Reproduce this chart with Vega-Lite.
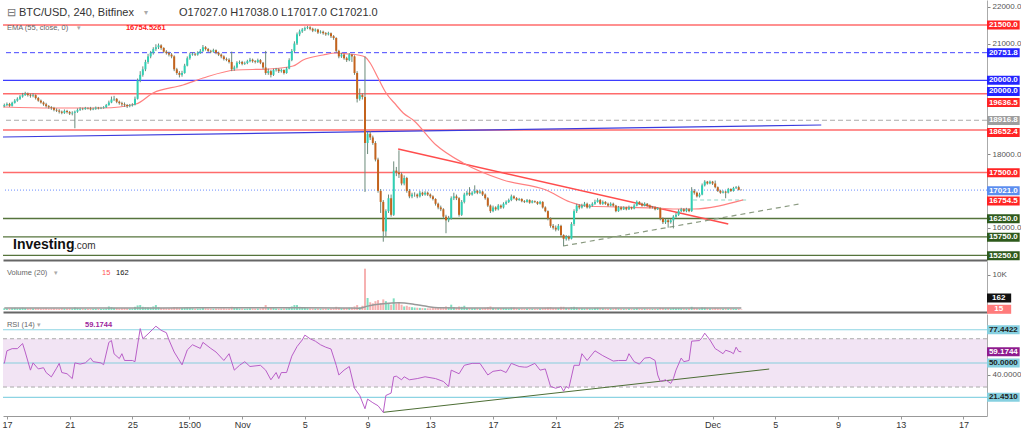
{
"$schema": "https://vega.github.io/schema/vega-lite/v6.json",
"padding": 0,
"autosize": {"type": "pad"},
"background": "white",
"spacing": 0,
"resolve": {"scale": {"color": "independent", "fill": "independent"}},
"config": {"view": {"stroke": null}, "font": "Liberation Sans", "axis": {"grid": false}},
"datasets": {
"candles": [
{"t":"2022-10-16T20:00","o":19300,"h":19370,"l":19270,"c":19330,"v":500,"r":49.5,"m":560},
{"t":"2022-10-17T00:00","o":19330,"h":19400,"l":19300,"c":19360,"v":450,"r":60},
{"t":"2022-10-17T04:00","o":19360,"h":19390,"l":19280,"c":19310,"v":400},
{"t":"2022-10-17T08:00","o":19310,"h":19420,"l":19290,"c":19390,"v":520,"r":61.8},
{"t":"2022-10-17T12:00","o":19390,"h":19490,"l":19370,"c":19450,"v":600},
{"t":"2022-10-17T16:00","o":19450,"h":19540,"l":19420,"c":19500,"v":480,"r":61.8},
{"t":"2022-10-17T20:00","o":19500,"h":19600,"l":19470,"c":19560,"v":500},
{"t":"2022-10-18T00:00","o":19560,"h":19660,"l":19530,"c":19600,"v":650,"r":66},
{"t":"2022-10-18T04:00","o":19600,"h":19690,"l":19580,"c":19640,"v":550,"r":59},
{"t":"2022-10-18T08:00","o":19640,"h":19670,"l":19560,"c":19600,"v":450},
{"t":"2022-10-18T12:00","o":19600,"h":19640,"l":19530,"c":19580,"v":500,"r":44},
{"t":"2022-10-18T16:00","o":19580,"h":19650,"l":19540,"c":19600,"v":420,"r":50},
{"t":"2022-10-18T20:00","o":19600,"h":19620,"l":19480,"c":19520,"v":480},
{"t":"2022-10-19T00:00","o":19520,"h":19550,"l":19420,"c":19450,"v":520,"r":45},
{"t":"2022-10-19T04:00","o":19450,"h":19480,"l":19370,"c":19400,"v":400},
{"t":"2022-10-19T08:00","o":19400,"h":19430,"l":19310,"c":19350,"v":450,"r":46},
{"t":"2022-10-19T12:00","o":19350,"h":19390,"l":19260,"c":19300,"v":500,"r":42},
{"t":"2022-10-19T16:00","o":19300,"h":19330,"l":19230,"c":19270,"v":380},
{"t":"2022-10-19T20:00","o":19270,"h":19300,"l":19200,"c":19250,"v":420,"r":38.4},
{"t":"2022-10-20T00:00","o":19250,"h":19280,"l":19160,"c":19200,"v":450},
{"t":"2022-10-20T04:00","o":19200,"h":19240,"l":19140,"c":19180,"v":400,"r":45.6},
{"t":"2022-10-20T08:00","o":19180,"h":19220,"l":19100,"c":19150,"v":380,"r":49.6},
{"t":"2022-10-20T12:00","o":19150,"h":19180,"l":19080,"c":19120,"v":500,"r":42},
{"t":"2022-10-20T16:00","o":19120,"h":19210,"l":19090,"c":19170,"v":430},
{"t":"2022-10-20T20:00","o":19170,"h":19200,"l":19100,"c":19140,"v":400,"r":41},
{"t":"2022-10-21T00:00","o":19140,"h":19170,"l":19060,"c":19100,"v":450},
{"t":"2022-10-21T04:00","o":19100,"h":19160,"l":19050,"c":19120,"v":420,"r":37},
{"t":"2022-10-21T08:00","o":19120,"h":19180,"l":18700,"c":19150,"v":700,"r":50},
{"t":"2022-10-21T12:00","o":19150,"h":19240,"l":19120,"c":19200,"v":550},
{"t":"2022-10-21T16:00","o":19200,"h":19270,"l":19170,"c":19230,"v":420,"r":49},
{"t":"2022-10-21T20:00","o":19230,"h":19260,"l":19190,"c":19220,"v":380},
{"t":"2022-10-22T00:00","o":19220,"h":19280,"l":19200,"c":19250,"v":350,"r":50},
{"t":"2022-10-22T04:00","o":19250,"h":19270,"l":19210,"c":19240,"v":300},
{"t":"2022-10-22T08:00","o":19240,"h":19280,"l":19180,"c":19210,"v":320,"r":54},
{"t":"2022-10-22T12:00","o":19210,"h":19260,"l":19190,"c":19230,"v":350,"r":51},
{"t":"2022-10-22T16:00","o":19230,"h":19290,"l":19200,"c":19260,"v":380},
{"t":"2022-10-22T20:00","o":19260,"h":19280,"l":19210,"c":19240,"v":330},
{"t":"2022-10-23T00:00","o":19240,"h":19280,"l":19220,"c":19250,"v":300,"r":50},
{"t":"2022-10-23T04:00","o":19250,"h":19300,"l":19230,"c":19270,"v":350,"r":48.5},
{"t":"2022-10-23T08:00","o":19270,"h":19360,"l":19250,"c":19330,"v":450},
{"t":"2022-10-23T12:00","o":19330,"h":19450,"l":19310,"c":19400,"v":1000,"r":67},
{"t":"2022-10-23T16:00","o":19400,"h":19560,"l":19380,"c":19480,"v":800,"r":68.5},
{"t":"2022-10-23T20:00","o":19480,"h":19580,"l":19440,"c":19500,"v":600,"r":57.5},
{"t":"2022-10-24T00:00","o":19500,"h":19520,"l":19380,"c":19420,"v":550},
{"t":"2022-10-24T04:00","o":19420,"h":19450,"l":19340,"c":19380,"v":450,"r":53.6},
{"t":"2022-10-24T08:00","o":19380,"h":19420,"l":19300,"c":19350,"v":500,"r":57.6},
{"t":"2022-10-24T12:00","o":19350,"h":19400,"l":19280,"c":19330,"v":550,"r":52},
{"t":"2022-10-24T16:00","o":19330,"h":19360,"l":19250,"c":19300,"v":480},
{"t":"2022-10-24T20:00","o":19300,"h":19360,"l":19270,"c":19320,"v":420},
{"t":"2022-10-25T00:00","o":19320,"h":19380,"l":19290,"c":19340,"v":400,"r":52},
{"t":"2022-10-25T04:00","o":19340,"h":19560,"l":19320,"c":19500,"v":900,"r":51},
{"t":"2022-10-25T08:00","o":19500,"h":20050,"l":19480,"c":20000,"v":1300},
{"t":"2022-10-25T12:00","o":20000,"h":20250,"l":19950,"c":20150,"v":1400,"r":78.4},
{"t":"2022-10-25T16:00","o":20150,"h":20380,"l":20100,"c":20300,"v":900,"r":70},
{"t":"2022-10-25T20:00","o":20300,"h":20560,"l":20250,"c":20500,"v":800},
{"t":"2022-10-26T00:00","o":20500,"h":20720,"l":20450,"c":20650,"v":750,"r":74},
{"t":"2022-10-26T04:00","o":20650,"h":20800,"l":20600,"c":20750,"v":700},
{"t":"2022-10-26T08:00","o":20750,"h":20900,"l":20700,"c":20850,"v":1000},
{"t":"2022-10-26T12:00","o":20850,"h":20980,"l":20800,"c":20900,"v":1400,"r":80.4},
{"t":"2022-10-26T16:00","o":20900,"h":21000,"l":20850,"c":20950,"v":800},
{"t":"2022-10-26T20:00","o":20950,"h":20980,"l":20830,"c":20880,"v":600,"r":77,"m":600},
{"t":"2022-10-27T00:00","o":20880,"h":20900,"l":20740,"c":20780,"v":550},
{"t":"2022-10-27T04:00","o":20780,"h":20820,"l":20700,"c":20740,"v":500,"r":75},
{"t":"2022-10-27T08:00","o":20740,"h":20780,"l":20650,"c":20700,"v":480,"r":69},
{"t":"2022-10-27T12:00","o":20700,"h":20740,"l":20600,"c":20650,"v":550},
{"t":"2022-10-27T16:00","o":20650,"h":20680,"l":20250,"c":20300,"v":800,"r":59},
{"t":"2022-10-27T20:00","o":20300,"h":20340,"l":20150,"c":20200,"v":700},
{"t":"2022-10-28T00:00","o":20200,"h":20250,"l":20080,"c":20150,"v":600},
{"t":"2022-10-28T04:00","o":20150,"h":20260,"l":20100,"c":20200,"v":550,"r":48.4},
{"t":"2022-10-28T08:00","o":20200,"h":20450,"l":20180,"c":20400,"v":650},
{"t":"2022-10-28T12:00","o":20400,"h":20650,"l":20380,"c":20600,"v":700,"r":60.7},
{"t":"2022-10-28T16:00","o":20600,"h":20750,"l":20560,"c":20700,"v":600},
{"t":"2022-10-28T20:00","o":20700,"h":20770,"l":20670,"c":20720,"v":500,"r":65},
{"t":"2022-10-29T00:00","o":20720,"h":20750,"l":20660,"c":20700,"v":400},
{"t":"2022-10-29T04:00","o":20700,"h":20790,"l":20670,"c":20750,"v":420},
{"t":"2022-10-29T08:00","o":20750,"h":20850,"l":20720,"c":20800,"v":450,"r":62},
{"t":"2022-10-29T12:00","o":20800,"h":20960,"l":20770,"c":20900,"v":600,"r":67},
{"t":"2022-10-29T16:00","o":20900,"h":20930,"l":20810,"c":20850,"v":500},
{"t":"2022-10-29T20:00","o":20850,"h":20880,"l":20760,"c":20800,"v":450},
{"t":"2022-10-30T00:00","o":20800,"h":20830,"l":20740,"c":20780,"v":400,"r":62},
{"t":"2022-10-30T04:00","o":20780,"h":20860,"l":20750,"c":20820,"v":380},
{"t":"2022-10-30T08:00","o":20820,"h":20840,"l":20710,"c":20750,"v":420,"r":59},
{"t":"2022-10-30T12:00","o":20750,"h":20780,"l":20660,"c":20700,"v":450},
{"t":"2022-10-30T16:00","o":20700,"h":20730,"l":20600,"c":20650,"v":480},
{"t":"2022-10-30T20:00","o":20650,"h":20680,"l":20540,"c":20580,"v":500,"r":52},
{"t":"2022-10-31T00:00","o":20580,"h":20620,"l":20520,"c":20560,"v":420},
{"t":"2022-10-31T04:00","o":20560,"h":20600,"l":20460,"c":20500,"v":450,"r":57.6},
{"t":"2022-10-31T08:00","o":20500,"h":20780,"l":20250,"c":20300,"v":900},
{"t":"2022-10-31T12:00","o":20300,"h":20400,"l":20260,"c":20350,"v":650,"r":44},
{"t":"2022-10-31T16:00","o":20350,"h":20520,"l":20320,"c":20480,"v":550},
{"t":"2022-10-31T20:00","o":20480,"h":20540,"l":20440,"c":20500,"v":450,"r":48},
{"t":"2022-11-01T00:00","o":20500,"h":20530,"l":20410,"c":20450,"v":420},
{"t":"2022-11-01T04:00","o":20450,"h":20510,"l":20420,"c":20470,"v":380,"r":51},
{"t":"2022-11-01T08:00","o":20470,"h":20560,"l":20440,"c":20520,"v":420},
{"t":"2022-11-01T12:00","o":20520,"h":20610,"l":20490,"c":20560,"v":500,"r":47},
{"t":"2022-11-01T16:00","o":20560,"h":20590,"l":20480,"c":20520,"v":450},
{"t":"2022-11-01T20:00","o":20520,"h":20550,"l":20460,"c":20500,"v":400},
{"t":"2022-11-02T00:00","o":20500,"h":20590,"l":20470,"c":20550,"v":420},
{"t":"2022-11-02T04:00","o":20550,"h":20580,"l":20440,"c":20480,"v":450,"r":48},
{"t":"2022-11-02T08:00","o":20480,"h":20500,"l":20300,"c":20350,"v":600},
{"t":"2022-11-02T12:00","o":20350,"h":20800,"l":20150,"c":20200,"v":1400,"r":44,"m":620},
{"t":"2022-11-02T16:00","o":20200,"h":20320,"l":20150,"c":20250,"v":800},
{"t":"2022-11-02T20:00","o":20250,"h":20280,"l":20080,"c":20150,"v":700,"r":36},
{"t":"2022-11-03T00:00","o":20150,"h":20320,"l":20120,"c":20280,"v":550},
{"t":"2022-11-03T04:00","o":20280,"h":20340,"l":20240,"c":20300,"v":450,"r":42},
{"t":"2022-11-03T08:00","o":20300,"h":20330,"l":20200,"c":20250,"v":400,"r":37},
{"t":"2022-11-03T12:00","o":20250,"h":20320,"l":20210,"c":20280,"v":420,"r":42},
{"t":"2022-11-03T16:00","o":20280,"h":20300,"l":20160,"c":20200,"v":450},
{"t":"2022-11-03T20:00","o":20200,"h":20360,"l":20180,"c":20320,"v":500,"r":42},
{"t":"2022-11-04T00:00","o":20320,"h":20600,"l":20300,"c":20550,"v":700},
{"t":"2022-11-04T04:00","o":20550,"h":20850,"l":20520,"c":20800,"v":1000,"r":55.6},
{"t":"2022-11-04T08:00","o":20800,"h":21060,"l":20760,"c":21000,"v":1400},
{"t":"2022-11-04T12:00","o":21000,"h":21300,"l":20960,"c":21250,"v":1400,"r":63.5},
{"t":"2022-11-04T16:00","o":21250,"h":21380,"l":21200,"c":21330,"v":900},
{"t":"2022-11-04T20:00","o":21330,"h":21420,"l":21290,"c":21380,"v":700,"r":69},
{"t":"2022-11-05T00:00","o":21380,"h":21460,"l":21340,"c":21420,"v":600,"r":73},
{"t":"2022-11-05T04:00","o":21420,"h":21480,"l":21390,"c":21440,"v":500},
{"t":"2022-11-05T08:00","o":21440,"h":21470,"l":21360,"c":21400,"v":450,"r":70},
{"t":"2022-11-05T12:00","o":21400,"h":21430,"l":21310,"c":21350,"v":420},
{"t":"2022-11-05T16:00","o":21350,"h":21410,"l":21320,"c":21380,"v":400,"r":68},
{"t":"2022-11-05T20:00","o":21380,"h":21400,"l":21260,"c":21300,"v":420},
{"t":"2022-11-06T00:00","o":21300,"h":21360,"l":21270,"c":21320,"v":380,"r":65},
{"t":"2022-11-06T04:00","o":21320,"h":21350,"l":21240,"c":21280,"v":400},
{"t":"2022-11-06T08:00","o":21280,"h":21310,"l":21210,"c":21250,"v":420,"r":63},
{"t":"2022-11-06T12:00","o":21250,"h":21320,"l":21220,"c":21280,"v":380},
{"t":"2022-11-06T16:00","o":21280,"h":21300,"l":21150,"c":21200,"v":450,"r":61.5},
{"t":"2022-11-06T20:00","o":21200,"h":21230,"l":21100,"c":21150,"v":500},
{"t":"2022-11-07T00:00","o":21150,"h":21170,"l":20750,"c":20800,"v":900,"r":48},
{"t":"2022-11-07T04:00","o":20800,"h":20830,"l":20600,"c":20650,"v":700,"r":40},
{"t":"2022-11-07T08:00","o":20650,"h":20750,"l":20610,"c":20700,"v":500},
{"t":"2022-11-07T12:00","o":20700,"h":20730,"l":20560,"c":20600,"v":550,"r":44,"m":560},
{"t":"2022-11-07T16:00","o":20600,"h":20640,"l":20500,"c":20550,"v":600},
{"t":"2022-11-07T20:00","o":20550,"h":20740,"l":20520,"c":20700,"v":650,"r":47},
{"t":"2022-11-08T00:00","o":20700,"h":20720,"l":20500,"c":20650,"v":700},
{"t":"2022-11-08T04:00","o":20650,"h":20680,"l":20150,"c":20200,"v":1000,"r":29},
{"t":"2022-11-08T08:00","o":20200,"h":20250,"l":19400,"c":19500,"v":1400},
{"t":"2022-11-08T12:00","o":19500,"h":19780,"l":19450,"c":19600,"v":800,"r":23,"m":520},
{"t":"2022-11-08T16:00","o":19600,"h":19650,"l":19480,"c":19550,"v":1200},
{"t":"2022-11-08T20:00","o":19550,"h":20650,"l":16970,"c":18300,"v":11700,"r":12},
{"t":"2022-11-09T00:00","o":18300,"h":18600,"l":18000,"c":18550,"v":3400,"r":20,"m":1100},
{"t":"2022-11-09T04:00","o":18550,"h":18620,"l":18380,"c":18450,"v":2200},
{"t":"2022-11-09T08:00","o":18450,"h":18500,"l":18250,"c":18300,"v":1900,"r":17},
{"t":"2022-11-09T12:00","o":18300,"h":18350,"l":17800,"c":17850,"v":2500},
{"t":"2022-11-09T16:00","o":17850,"h":17900,"l":16950,"c":17000,"v":2800,"r":14.5},
{"t":"2022-11-09T20:00","o":17000,"h":17050,"l":16400,"c":16700,"v":2000},
{"t":"2022-11-10T00:00","o":16700,"h":16750,"l":15620,"c":15900,"v":3000,"r":9,"m":1750},
{"t":"2022-11-10T04:00","o":15900,"h":16500,"l":15750,"c":16450,"v":2500,"r":23},
{"t":"2022-11-10T08:00","o":16450,"h":16900,"l":16400,"c":16800,"v":2000},
{"t":"2022-11-10T12:00","o":16800,"h":16900,"l":16300,"c":16350,"v":1500,"r":25},
{"t":"2022-11-10T16:00","o":16350,"h":17800,"l":16320,"c":17550,"v":3300,"r":38.5},
{"t":"2022-11-10T20:00","o":17550,"h":17650,"l":17400,"c":17500,"v":1800,"r":39},
{"t":"2022-11-11T00:00","o":17500,"h":18100,"l":17350,"c":17450,"v":2000,"m":2030},
{"t":"2022-11-11T04:00","o":17450,"h":17500,"l":17150,"c":17200,"v":1500,"r":36},
{"t":"2022-11-11T08:00","o":17200,"h":17420,"l":17150,"c":17350,"v":1000,"r":38.5},
{"t":"2022-11-11T12:00","o":17350,"h":17380,"l":16950,"c":17000,"v":1200},
{"t":"2022-11-11T16:00","o":17000,"h":17050,"l":16800,"c":16850,"v":900,"r":36},
{"t":"2022-11-11T20:00","o":16850,"h":16950,"l":16800,"c":16900,"v":800},
{"t":"2022-11-12T00:00","o":16900,"h":16960,"l":16840,"c":16900,"v":700,"m":1580},
{"t":"2022-11-12T04:00","o":16900,"h":16930,"l":16800,"c":16850,"v":650,"r":37},
{"t":"2022-11-12T08:00","o":16850,"h":17000,"l":16820,"c":16950,"v":600},
{"t":"2022-11-12T12:00","o":16950,"h":16980,"l":16860,"c":16900,"v":550},
{"t":"2022-11-12T16:00","o":16900,"h":16990,"l":16870,"c":16950,"v":500,"r":38.5,"m":1100},
{"t":"2022-11-12T20:00","o":16950,"h":16980,"l":16860,"c":16900,"v":480},
{"t":"2022-11-13T00:00","o":16900,"h":16930,"l":16800,"c":16850,"v":500},
{"t":"2022-11-13T04:00","o":16850,"h":16880,"l":16740,"c":16780,"v":550},
{"t":"2022-11-13T08:00","o":16780,"h":16800,"l":16600,"c":16650,"v":600,"r":37},
{"t":"2022-11-13T12:00","o":16650,"h":16680,"l":16500,"c":16550,"v":650,"m":640},
{"t":"2022-11-13T16:00","o":16550,"h":16600,"l":16450,"c":16500,"v":600},
{"t":"2022-11-13T20:00","o":16500,"h":16530,"l":16250,"c":16300,"v":800,"r":34.6},
{"t":"2022-11-14T00:00","o":16300,"h":16350,"l":15850,"c":16200,"v":1000},
{"t":"2022-11-14T04:00","o":16200,"h":16320,"l":16150,"c":16250,"v":700,"r":30.5},
{"t":"2022-11-14T08:00","o":16250,"h":16850,"l":16220,"c":16800,"v":1500,"r":44},
{"t":"2022-11-14T12:00","o":16800,"h":16950,"l":16750,"c":16850,"v":800},
{"t":"2022-11-14T16:00","o":16850,"h":16900,"l":16750,"c":16800,"v":600},
{"t":"2022-11-14T20:00","o":16800,"h":16830,"l":16300,"c":16350,"v":1000,"r":41},
{"t":"2022-11-15T00:00","o":16350,"h":16750,"l":16320,"c":16700,"v":900,"m":600},
{"t":"2022-11-15T04:00","o":16700,"h":16950,"l":16660,"c":16900,"v":1200,"r":48},
{"t":"2022-11-15T08:00","o":16900,"h":17000,"l":16870,"c":16950,"v":600},
{"t":"2022-11-15T12:00","o":16950,"h":17100,"l":16860,"c":16900,"v":550},
{"t":"2022-11-15T16:00","o":16900,"h":16990,"l":16870,"c":16950,"v":500,"r":49.6},
{"t":"2022-11-15T20:00","o":16950,"h":17150,"l":16920,"c":17000,"v":550},
{"t":"2022-11-16T00:00","o":17000,"h":17030,"l":16910,"c":16950,"v":500},
{"t":"2022-11-16T04:00","o":16950,"h":17020,"l":16920,"c":16980,"v":450,"r":49.6},
{"t":"2022-11-16T08:00","o":16980,"h":17000,"l":16860,"c":16900,"v":500},
{"t":"2022-11-16T12:00","o":16900,"h":16930,"l":16760,"c":16800,"v":600},
{"t":"2022-11-16T16:00","o":16800,"h":16830,"l":16560,"c":16600,"v":800,"r":40},
{"t":"2022-11-16T20:00","o":16600,"h":16630,"l":16400,"c":16450,"v":1000},
{"t":"2022-11-17T00:00","o":16450,"h":16600,"l":16420,"c":16550,"v":600,"r":43},
{"t":"2022-11-17T04:00","o":16550,"h":16580,"l":16460,"c":16500,"v":500},
{"t":"2022-11-17T08:00","o":16500,"h":16640,"l":16470,"c":16600,"v":550},
{"t":"2022-11-17T12:00","o":16600,"h":16630,"l":16510,"c":16550,"v":500,"r":44},
{"t":"2022-11-17T16:00","o":16550,"h":16690,"l":16520,"c":16650,"v":550},
{"t":"2022-11-17T20:00","o":16650,"h":16740,"l":16620,"c":16700,"v":500,"r":42},
{"t":"2022-11-18T00:00","o":16700,"h":16790,"l":16670,"c":16750,"v":450},
{"t":"2022-11-18T04:00","o":16750,"h":16900,"l":16720,"c":16850,"v":700,"r":49.6},
{"t":"2022-11-18T08:00","o":16850,"h":16880,"l":16770,"c":16800,"v":700},
{"t":"2022-11-18T12:00","o":16800,"h":16830,"l":16720,"c":16750,"v":500},
{"t":"2022-11-18T16:00","o":16750,"h":16810,"l":16730,"c":16780,"v":400,"r":47},
{"t":"2022-11-18T20:00","o":16780,"h":16800,"l":16690,"c":16720,"v":380},
{"t":"2022-11-19T00:00","o":16720,"h":16750,"l":16670,"c":16700,"v":350,"r":46.5},
{"t":"2022-11-19T04:00","o":16700,"h":16780,"l":16680,"c":16750,"v":380,"r":46.5,"m":560},
{"t":"2022-11-19T08:00","o":16750,"h":16770,"l":16650,"c":16680,"v":350},
{"t":"2022-11-19T12:00","o":16680,"h":16750,"l":16660,"c":16720,"v":330},
{"t":"2022-11-19T16:00","o":16720,"h":16740,"l":16670,"c":16700,"v":320,"r":49.6},
{"t":"2022-11-19T20:00","o":16700,"h":16720,"l":16620,"c":16650,"v":350},
{"t":"2022-11-20T00:00","o":16650,"h":16730,"l":16630,"c":16700,"v":400,"r":44},
{"t":"2022-11-20T04:00","o":16700,"h":16720,"l":16520,"c":16550,"v":500},
{"t":"2022-11-20T08:00","o":16550,"h":16580,"l":16420,"c":16450,"v":600,"r":45},
{"t":"2022-11-20T12:00","o":16450,"h":16470,"l":16200,"c":16250,"v":700},
{"t":"2022-11-20T16:00","o":16250,"h":16280,"l":16000,"c":16050,"v":800,"r":30.5},
{"t":"2022-11-20T20:00","o":16050,"h":16100,"l":15950,"c":16000,"v":600},
{"t":"2022-11-21T00:00","o":16000,"h":16060,"l":15900,"c":15950,"v":600,"r":29},
{"t":"2022-11-21T04:00","o":15950,"h":16100,"l":15920,"c":16050,"v":550},
{"t":"2022-11-21T08:00","o":16050,"h":16080,"l":15750,"c":15800,"v":900,"r":30.5},
{"t":"2022-11-21T12:00","o":15800,"h":15820,"l":15500,"c":15700,"v":900,"r":26.5},
{"t":"2022-11-21T16:00","o":15700,"h":15800,"l":15650,"c":15750,"v":600,"r":30.5},
{"t":"2022-11-21T20:00","o":15750,"h":15790,"l":15650,"c":15700,"v":550,"r":29},
{"t":"2022-11-22T00:00","o":15700,"h":16150,"l":15680,"c":16100,"v":800},
{"t":"2022-11-22T04:00","o":16100,"h":16500,"l":16050,"c":16450,"v":900,"r":48},
{"t":"2022-11-22T08:00","o":16450,"h":16650,"l":16400,"c":16600,"v":700},
{"t":"2022-11-22T12:00","o":16600,"h":16640,"l":16500,"c":16550,"v":600,"r":48},
{"t":"2022-11-22T16:00","o":16550,"h":16650,"l":16520,"c":16600,"v":500,"r":57.6},
{"t":"2022-11-22T20:00","o":16600,"h":16700,"l":16570,"c":16650,"v":450},
{"t":"2022-11-23T00:00","o":16650,"h":16680,"l":16520,"c":16550,"v":500,"r":52},
{"t":"2022-11-23T04:00","o":16550,"h":16640,"l":16520,"c":16600,"v":450},
{"t":"2022-11-23T08:00","o":16600,"h":16690,"l":16570,"c":16650,"v":400},
{"t":"2022-11-23T12:00","o":16650,"h":16760,"l":16620,"c":16700,"v":550,"r":60},
{"t":"2022-11-23T16:00","o":16700,"h":16800,"l":16680,"c":16750,"v":600},
{"t":"2022-11-23T20:00","o":16750,"h":16780,"l":16620,"c":16650,"v":500},
{"t":"2022-11-24T00:00","o":16650,"h":16740,"l":16620,"c":16700,"v":450,"r":56},
{"t":"2022-11-24T04:00","o":16700,"h":16720,"l":16620,"c":16650,"v":400},
{"t":"2022-11-24T08:00","o":16650,"h":16680,"l":16570,"c":16600,"v":380},
{"t":"2022-11-24T12:00","o":16600,"h":16690,"l":16580,"c":16650,"v":400},
{"t":"2022-11-24T16:00","o":16650,"h":16680,"l":16570,"c":16600,"v":380,"r":51.5},
{"t":"2022-11-24T20:00","o":16600,"h":16620,"l":16420,"c":16450,"v":500},
{"t":"2022-11-25T00:00","o":16450,"h":16590,"l":16430,"c":16550,"v":420,"r":52},
{"t":"2022-11-25T04:00","o":16550,"h":16580,"l":16470,"c":16500,"v":350},
{"t":"2022-11-25T08:00","o":16500,"h":16580,"l":16480,"c":16550,"v":330},
{"t":"2022-11-25T12:00","o":16550,"h":16570,"l":16470,"c":16500,"v":350,"r":52},
{"t":"2022-11-25T16:00","o":16500,"h":16600,"l":16480,"c":16550,"v":400,"r":57.6},
{"t":"2022-11-25T20:00","o":16550,"h":16570,"l":16490,"c":16520,"v":330,"m":540},
{"t":"2022-11-26T00:00","o":16520,"h":16640,"l":16500,"c":16600,"v":350,"r":51},
{"t":"2022-11-26T04:00","o":16600,"h":16740,"l":16580,"c":16700,"v":500},
{"t":"2022-11-26T08:00","o":16700,"h":16720,"l":16620,"c":16650,"v":400,"r":49},
{"t":"2022-11-26T12:00","o":16650,"h":16680,"l":16570,"c":16600,"v":350},
{"t":"2022-11-26T16:00","o":16600,"h":16690,"l":16580,"c":16650,"v":380,"r":54},
{"t":"2022-11-26T20:00","o":16650,"h":16670,"l":16570,"c":16600,"v":330},
{"t":"2022-11-27T00:00","o":16600,"h":16630,"l":16520,"c":16550,"v":300,"r":54.5},
{"t":"2022-11-27T04:00","o":16550,"h":16590,"l":16520,"c":16550,"v":280},
{"t":"2022-11-27T08:00","o":16550,"h":16580,"l":16470,"c":16500,"v":300,"r":52},
{"t":"2022-11-27T12:00","o":16500,"h":16560,"l":16480,"c":16530,"v":320,"r":40},
{"t":"2022-11-27T16:00","o":16530,"h":16550,"l":16200,"c":16250,"v":600,"r":34.6},
{"t":"2022-11-27T20:00","o":16250,"h":16280,"l":16100,"c":16150,"v":550},
{"t":"2022-11-28T00:00","o":16150,"h":16240,"l":16100,"c":16200,"v":450,"r":36},
{"t":"2022-11-28T04:00","o":16200,"h":16230,"l":16000,"c":16150,"v":500},
{"t":"2022-11-28T08:00","o":16150,"h":16240,"l":16110,"c":16200,"v":450,"r":33},
{"t":"2022-11-28T12:00","o":16200,"h":16340,"l":15980,"c":16300,"v":600,"r":37},
{"t":"2022-11-28T16:00","o":16300,"h":16400,"l":16270,"c":16350,"v":500,"r":44},
{"t":"2022-11-28T20:00","o":16350,"h":16500,"l":16320,"c":16450,"v":550},
{"t":"2022-11-29T00:00","o":16450,"h":16540,"l":16420,"c":16500,"v":450,"r":54},
{"t":"2022-11-29T04:00","o":16500,"h":16530,"l":16420,"c":16450,"v":400,"r":51},
{"t":"2022-11-29T08:00","o":16450,"h":16540,"l":16420,"c":16500,"v":380},
{"t":"2022-11-29T12:00","o":16500,"h":16530,"l":16420,"c":16450,"v":400,"r":52},
{"t":"2022-11-29T16:00","o":16450,"h":17100,"l":16430,"c":17000,"v":900,"r":68},
{"t":"2022-11-29T20:00","o":17000,"h":17050,"l":16900,"c":16950,"v":600},
{"t":"2022-11-30T00:00","o":16950,"h":16980,"l":16820,"c":16850,"v":500},
{"t":"2022-11-30T04:00","o":16850,"h":16950,"l":16820,"c":16900,"v":450,"r":68.5},
{"t":"2022-11-30T08:00","o":16900,"h":17200,"l":16880,"c":17150,"v":700,"r":71},
{"t":"2022-11-30T12:00","o":17150,"h":17290,"l":17120,"c":17250,"v":650,"r":74.6},
{"t":"2022-11-30T16:00","o":17250,"h":17270,"l":17170,"c":17200,"v":500},
{"t":"2022-11-30T20:00","o":17200,"h":17280,"l":17180,"c":17250,"v":450,"r":69},
{"t":"2022-12-01T00:00","o":17250,"h":17270,"l":17160,"c":17200,"v":400},
{"t":"2022-12-01T04:00","o":17200,"h":17280,"l":17070,"c":17100,"v":500,"r":61.8},
{"t":"2022-12-01T08:00","o":17100,"h":17120,"l":16970,"c":17000,"v":450,"r":60.5},
{"t":"2022-12-01T12:00","o":17000,"h":17030,"l":16920,"c":16950,"v":400},
{"t":"2022-12-01T16:00","o":16950,"h":17010,"l":16930,"c":16980,"v":380,"r":57.6},
{"t":"2022-12-01T20:00","o":16980,"h":17000,"l":16800,"c":16950,"v":420,"r":60.5},
{"t":"2022-12-02T00:00","o":16950,"h":17080,"l":16930,"c":17050,"v":400},
{"t":"2022-12-02T04:00","o":17050,"h":17070,"l":16970,"c":17000,"v":350,"r":59},
{"t":"2022-12-02T08:00","o":17000,"h":17110,"l":16980,"c":17080,"v":380,"r":57.6},
{"t":"2022-12-02T12:00","o":17080,"h":17130,"l":17050,"c":17100,"v":350,"r":63},
{"t":"2022-12-02T16:00","o":17100,"h":17140,"l":17010,"c":17027,"v":300,"r":59.5},
{"t":"2022-12-02T20:00","o":17027,"h":17038,"l":17017,"c":17021,"v":162,"r":59.1744,"m":540}
],
"ema": [
{"t":"2022-10-16T18:00","e":19277},{"t":"2022-10-19T23:00","e":19250},{"t":"2022-10-23T03:00","e":19250},
{"t":"2022-10-25T05:30","e":19358},{"t":"2022-10-26T07:40","e":19657},{"t":"2022-10-28T05:30","e":19874},
{"t":"2022-10-29T12:10","e":20064},{"t":"2022-10-31T14:40","e":20282},{"t":"2022-11-02T17:15","e":20309},
{"t":"2022-11-04T06:00","e":20390},{"t":"2022-11-04T21:20","e":20553},{"t":"2022-11-06T04:00","e":20689},
{"t":"2022-11-07T00:00","e":20743},{"t":"2022-11-07T18:15","e":20716},{"t":"2022-11-08T09:25","e":20689},
{"t":"2022-11-08T20:10","e":20634},{"t":"2022-11-09T03:50","e":20472},{"t":"2022-11-09T16:05","e":20064},
{"t":"2022-11-10T04:20","e":19657},{"t":"2022-11-10T19:40","e":19331},{"t":"2022-11-11T06:30","e":19114},
{"t":"2022-11-11T21:40","e":18924},{"t":"2022-11-13T08:50","e":18245},{"t":"2022-11-15T02:10","e":17757},
{"t":"2022-11-17T15:25","e":17295},{"t":"2022-11-20T09:20","e":17024},{"t":"2022-11-21T22:05","e":16698},
{"t":"2022-11-22T22:30","e":16589},{"t":"2022-11-25T02:40","e":16562},{"t":"2022-11-27T05:05","e":16535},
{"t":"2022-11-28T11:45","e":16508},{"t":"2022-11-29T18:15","e":16508},{"t":"2022-12-02T22:50","e":16754}
],
"priceTags": [
{"pos":21500,"label":"21500.0","kind":"resistance"},
{"pos":20751.8,"label":"20751.8","kind":"level"},
{"pos":20000,"label":"20000.0","kind":"level"},
{"pos":19698,"label":"20000.0","kind":"level"},
{"pos":19399,"label":"19636.5","kind":"resistance"},
{"pos":18911,"label":"18916.8","kind":"fib"},
{"pos":18585,"label":"18652.4","kind":"resistance"},
{"pos":17493,"label":"17500.0","kind":"resistance"},
{"pos":17005,"label":"17021.0","kind":"price"},
{"pos":16725,"label":"16754.5","kind":"resistance"},
{"pos":16244,"label":"16250.0","kind":"support"},
{"pos":15739,"label":"15750.0","kind":"support"},
{"pos":15240,"label":"15250.0","kind":"support"}
],
"volTags": [
{"pos":3400,"label":"162","kind":"volume"},
{"pos":200,"label":"15","kind":"average"}
],
"rsiTags": [
{"pos":77.4422,"label":"77.4422","kind":"band"},
{"pos":59.1744,"label":"59.1744","kind":"rsi"},
{"pos":50,"label":"50.0000","kind":"band"},
{"pos":21.451,"label":"21.4510","kind":"band"}
]
},
"vconcat": [
{
"width": 984, "height": 260,
"layer": [
{"data": {"values": [{"level":21500},{"level":19636.5},{"level":18652.4},{"level":17500}]},
 "mark": {"type":"rule","color":"#ff6b6b","strokeWidth":1.5},
 "encoding": {"y": {"field":"level","type":"quantitative"}}},
{"data": {"values": [{"level":20000}]},
 "mark": {"type":"rule","color":"#3d3dff","strokeWidth":1.2},
 "encoding": {"y": {"field":"level","type":"quantitative"}}},
{"data": {"values": [{"level":20751.8}]},
 "mark": {"type":"rule","color":"#4747ff","strokeWidth":1,"strokeDash":[5,3]},
 "encoding": {"y": {"field":"level","type":"quantitative"}}},
{"data": {"values": [{"level":18916.8}]},
 "mark": {"type":"rule","color":"#aaaaaa","strokeWidth":1,"strokeDash":[5,3]},
 "encoding": {"y": {"field":"level","type":"quantitative"}}},
{"data": {"values": [{"level":17021}]},
 "mark": {"type":"rule","color":"#6a8cff","strokeWidth":1,"strokeDash":[1,2]},
 "encoding": {"y": {"field":"level","type":"quantitative"}}},
{"data": {"values": [{"level":16250},{"level":15750},{"level":15250}]},
 "mark": {"type":"rule","color":"#56743c","strokeWidth":1.3},
 "encoding": {"y": {"field":"level","type":"quantitative"}}},
{"data": {"values": [{}]},
 "mark": {"type":"rule","color":"#3b3bdd","strokeWidth":1.2},
 "encoding": {
  "x": {"datum": {"year":2022,"month":"Oct","date":16,"hours":18},"type":"temporal"},
  "x2": {"datum": {"year":2022,"month":"Dec","date":7,"hours":22,"minutes":20}},
  "y": {"datum": 18462,"type":"quantitative"},
  "y2": {"datum": 18788}}},
{"data": {"values": [{}]},
 "mark": {"type":"rule","color":"#ff4d4d","strokeWidth":1.5},
 "encoding": {
  "x": {"datum": {"year":2022,"month":"Nov","date":10,"hours":22,"minutes":45},"type":"temporal"},
  "x2": {"datum": {"year":2022,"month":"Dec","date":2,"hours":0}},
  "y": {"datum": 18137,"type":"quantitative"},
  "y2": {"datum": 16100}}},
{"data": {"values": [{}]},
 "mark": {"type":"rule","color":"#8a9a80","strokeWidth":1.2,"strokeDash":[5,4]},
 "encoding": {
  "x": {"datum": {"year":2022,"month":"Nov","date":21,"hours":11,"minutes":20},"type":"temporal"},
  "x2": {"datum": {"year":2022,"month":"Dec","date":6,"hours":12,"minutes":40}},
  "y": {"datum": 15503,"type":"quantitative"},
  "y2": {"datum": 16643}}},
{"data": {"values": [{}]},
 "mark": {"type":"rule","color":"#8fd8c8","strokeWidth":1.2,"strokeDash":[4,3]},
 "encoding": {
  "x": {"datum": {"year":2022,"month":"Nov","date":29,"hours":18,"minutes":15},"type":"temporal"},
  "x2": {"datum": {"year":2022,"month":"Dec","date":3,"hours":6,"minutes":30}},
  "y": {"datum": 16752,"type":"quantitative"}}},
{"data": {"name":"ema"},
 "mark": {"type":"line","color":"#ff8080","strokeWidth":1.2,"interpolate":"monotone"},
 "encoding": {
  "x": {"field":"t","type":"temporal"},
  "y": {"field":"e","type":"quantitative"}}},
{"data": {"name":"candles"},
 "mark": {"type":"rule","color":"#6b8a7a","strokeWidth":1},
 "encoding": {
  "x": {"field":"t","type":"temporal","scale":{"domain":[{"year":2022,"month":"Oct","date":16,"hours":18},{"year":2022,"month":"Dec","date":18,"hours":12}],"padding":0},
        "axis":{"title":null,"labels":false,"ticks":false,"domainColor":"#666666","domainWidth":2}},
  "y": {"field":"l","type":"quantitative","scale":{"domain":[15123,22182],"nice":false,"zero":false,"padding":0},
        "axis":{"orient":"right","title":null,"values":[22000,21000,18000,16000],"format":".1f","tickSize":3,"labelPadding":2,"domainColor":"#aaaaaa","tickColor":"#888888","labelColor":"#555555","labelFontSize":8}},
  "y2": {"field":"h"}}},
{"data": {"name":"candles"},
 "mark": {"type":"bar","width":2},
 "encoding": {
  "x": {"field":"t","type":"temporal"},
  "y": {"field":"o","type":"quantitative"},
  "y2": {"field":"c"},
  "color": {"condition": {"test":"datum.c >= datum.o","value":"#2fd0b4"},"value":"#c4631d"}}},
{"data": {"name":"priceTags"},
 "mark": {"type":"bar","orient":"horizontal","height":9},
 "encoding": {
  "x": {"datum": {"year":2022,"month":"Dec","date":18,"hours":12},"type":"temporal"},
  "x2": {"datum": {"year":2022,"month":"Dec","date":20,"hours":14}},
  "y": {"field":"pos","type":"quantitative"},
  "color": {"field":"kind","type":"nominal","legend":null,
    "scale":{"domain":["resistance","level","fib","price","support"],"range":["#ff2424","#2424ff","#9e9e9e","#5b8def","#2e5a1c"]}}}},
{"data": {"name":"priceTags"},
 "mark": {"type":"text","color":"white","fontSize":8,"fontWeight":"bold","align":"center","baseline":"middle"},
 "encoding": {
  "x": {"datum": {"year":2022,"month":"Dec","date":19,"hours":13},"type":"temporal"},
  "y": {"field":"pos","type":"quantitative"},
  "text": {"field":"label"}}},
{"data": {"values": [{}]},
 "mark": {"type":"text","align":"left","baseline":"middle","fontSize":11,"color":"#777777","text":"⊟"},
 "encoding": {"x": {"datum": {"year":2022,"month":"Oct","date":17,"hours":0},"type":"temporal"},"y": {"datum": 21829,"type":"quantitative"}}},
{"data": {"values": [{}]},
 "mark": {"type":"text","align":"left","baseline":"middle","fontSize":11,"color":"#333333","text":"BTC/USD, 240, Bitfinex"},
 "encoding": {"x": {"datum": {"year":2022,"month":"Oct","date":17,"hours":18,"minutes":30},"type":"temporal"},"y": {"datum": 21829,"type":"quantitative"}}},
{"data": {"values": [{}]},
 "mark": {"type":"text","align":"left","baseline":"middle","fontSize":8,"color":"#aaaaaa","text":"▾"},
 "encoding": {"x": {"datum": {"year":2022,"month":"Oct","date":25,"hours":17,"minutes":45},"type":"temporal"},"y": {"datum": 21829,"type":"quantitative"}}},
{"data": {"values": [{}]},
 "mark": {"type":"text","align":"left","baseline":"middle","fontSize":11,"color":"#333333","text":"O17027.0 H17038.0 L17017.0 C17021.0"},
 "encoding": {"x": {"datum": {"year":2022,"month":"Oct","date":27,"hours":23,"minutes":15},"type":"temporal"},"y": {"datum": 21829,"type":"quantitative"}}},
{"data": {"values": [{}]},
 "mark": {"type":"text","align":"left","baseline":"middle","fontSize":7.5,"color":"#666666","text":"EMA (55, close, 0)"},
 "encoding": {"x": {"datum": {"year":2022,"month":"Oct","date":17,"hours":0},"type":"temporal"},"y": {"datum": 21422,"type":"quantitative"}}},
{"data": {"values": [{}]},
 "mark": {"type":"text","align":"left","baseline":"middle","fontSize":7,"color":"#aaaaaa","text":"▾"},
 "encoding": {"x": {"datum": {"year":2022,"month":"Oct","date":21,"hours":11,"minutes":15},"type":"temporal"},"y": {"datum": 21422,"type":"quantitative"}}},
{"data": {"values": [{}]},
 "mark": {"type":"text","align":"left","baseline":"middle","fontSize":7.5,"fontWeight":"bold","color":"#ff2020","text":"16754.5261"},
 "encoding": {"x": {"datum": {"year":2022,"month":"Oct","date":24,"hours":14,"minutes":10},"type":"temporal"},"y": {"datum": 21422,"type":"quantitative"}}},
{"data": {"values": [{}]},
 "mark": {"type":"text","align":"left","baseline":"alphabetic","fontSize":14,"fontWeight":"bold","color":"#111111","text":"Investing"},
 "encoding": {"x": {"datum": {"year":2022,"month":"Oct","date":17,"hours":9,"minutes":20},"type":"temporal"},"y": {"datum": 15422,"type":"quantitative"}}},
{"data": {"values": [{}]},
 "mark": {"type":"text","align":"left","baseline":"alphabetic","fontSize":10,"color":"#333333","text":".com"},
 "encoding": {"x": {"datum": {"year":2022,"month":"Oct","date":21,"hours":6,"minutes":40},"type":"temporal"},"y": {"datum": 15422,"type":"quantitative"}}}
]
},
{
"width": 984, "height": 51,
"layer": [
{"data": {"name":"candles"},
 "mark": {"type":"bar","width":2,"opacity":0.85},
 "encoding": {
  "x": {"field":"t","type":"temporal","scale":{"domain":[{"year":2022,"month":"Oct","date":16,"hours":18},{"year":2022,"month":"Dec","date":18,"hours":12}],"padding":0},
        "axis":{"title":null,"labels":false,"ticks":false,"domainColor":"#666666","domainWidth":2}},
  "y": {"field":"v","type":"quantitative","scale":{"domain":[-567,13881],"nice":false,"zero":false,"padding":0},
        "axis":{"orient":"right","title":null,"values":[10000],"labelExpr":"'10K'","tickSize":3,"labelPadding":2,"domainColor":"#aaaaaa","tickColor":"#888888","labelColor":"#555555","labelFontSize":8}},
  "color": {"condition": {"test":"datum.c >= datum.o","value":"#6ad9b6"},"value":"#f5a3a3"}}},
{"data": {"name":"candles"},
 "transform": [{"filter": "isValid(datum.m)"}],
 "mark": {"type":"line","color":"#999999","strokeWidth":1.5,"interpolate":"monotone"},
 "encoding": {
  "x": {"field":"t","type":"temporal"},
  "y": {"field":"m","type":"quantitative"}}},
{"data": {"name":"volTags"},
 "mark": {"type":"bar","orient":"horizontal","height":9},
 "encoding": {
  "x": {"datum": {"year":2022,"month":"Dec","date":18,"hours":12},"type":"temporal"},
  "x2": {"datum": {"year":2022,"month":"Dec","date":20,"hours":1}},
  "y": {"field":"pos","type":"quantitative"},
  "color": {"field":"kind","type":"nominal","legend":null,"scale":{"domain":["volume","average"],"range":["#111111","#ff7b7b"]}}}},
{"data": {"name":"volTags"},
 "mark": {"type":"text","color":"white","fontSize":8,"fontWeight":"bold","align":"center","baseline":"middle"},
 "encoding": {
  "x": {"datum": {"year":2022,"month":"Dec","date":19,"hours":6},"type":"temporal"},
  "y": {"field":"pos","type":"quantitative"},
  "text": {"field":"label"}}},
{"data": {"values": [{}]},
 "mark": {"type":"text","align":"left","baseline":"middle","fontSize":7.5,"color":"#666666","text":"Volume (20)"},
 "encoding": {"x": {"datum": {"year":2022,"month":"Oct","date":17,"hours":0},"type":"temporal"},"y": {"datum": 10567,"type":"quantitative"}}},
{"data": {"values": [{}]},
 "mark": {"type":"text","align":"left","baseline":"middle","fontSize":7,"color":"#aaaaaa","text":"▾"},
 "encoding": {"x": {"datum": {"year":2022,"month":"Oct","date":20,"hours":0},"type":"temporal"},"y": {"datum": 10567,"type":"quantitative"}}},
{"data": {"values": [{}]},
 "mark": {"type":"text","align":"left","baseline":"middle","fontSize":7.5,"color":"#ff5555","text":"15"},
 "encoding": {"x": {"datum": {"year":2022,"month":"Oct","date":23,"hours":1,"minutes":30},"type":"temporal"},"y": {"datum": 10567,"type":"quantitative"}}},
{"data": {"values": [{}]},
 "mark": {"type":"text","align":"left","baseline":"middle","fontSize":7.5,"color":"#111111","text":"162"},
 "encoding": {"x": {"datum": {"year":2022,"month":"Oct","date":23,"hours":23},"type":"temporal"},"y": {"datum": 10567,"type":"quantitative"}}}
]
},
{
"width": 984, "height": 102,
"layer": [
{"data": {"values": [{}]},
 "mark": {"type":"rect","color":"#f2e4f4"},
 "encoding": {"y": {"datum": 30,"type":"quantitative"},"y2": {"datum": 70}}},
{"data": {"values": [{"level":70},{"level":30}]},
 "mark": {"type":"rule","color":"#aaaaaa","strokeWidth":1,"strokeDash":[4,3]},
 "encoding": {"y": {"field":"level","type":"quantitative"}}},
{"data": {"values": [{"level":77.4422},{"level":21.451}]},
 "mark": {"type":"rule","color":"#8dd4e3","strokeWidth":1.2},
 "encoding": {"y": {"field":"level","type":"quantitative"}}},
{"data": {"values": [{"level":50}]},
 "mark": {"type":"rule","color":"#bcd9e8","strokeWidth":2},
 "encoding": {"y": {"field":"level","type":"quantitative"}}},
{"data": {"values": [{}]},
 "mark": {"type":"rule","color":"#4d6e35","strokeWidth":1},
 "encoding": {
  "x": {"datum": {"year":2022,"month":"Nov","date":10,"hours":0},"type":"temporal"},
  "x2": {"datum": {"year":2022,"month":"Dec","date":4,"hours":14,"minutes":40}},
  "y": {"datum": 9.05,"type":"quantitative"},
  "y2": {"datum": 44.9}}},
{"data": {"name":"candles"},
 "transform": [{"filter": "isValid(datum.r)"}],
 "mark": {"type":"line","color":"#b95fc8","strokeWidth":1},
 "encoding": {
  "x": {"field":"t","type":"temporal","scale":{"domain":[{"year":2022,"month":"Oct","date":16,"hours":18},{"year":2022,"month":"Dec","date":18,"hours":12}],"padding":0},
        "axis":{"title":null,"values":[
          {"year":2022,"month":"Oct","date":17},{"year":2022,"month":"Oct","date":21},{"year":2022,"month":"Oct","date":25},
          {"year":2022,"month":"Oct","date":28,"hours":15},{"year":2022,"month":"Nov","date":1},{"year":2022,"month":"Nov","date":5},
          {"year":2022,"month":"Nov","date":9},{"year":2022,"month":"Nov","date":13},{"year":2022,"month":"Nov","date":17},
          {"year":2022,"month":"Nov","date":21},{"year":2022,"month":"Nov","date":25},{"year":2022,"month":"Dec","date":1},
          {"year":2022,"month":"Dec","date":5},{"year":2022,"month":"Dec","date":9},{"year":2022,"month":"Dec","date":13},
          {"year":2022,"month":"Dec","date":17}],
          "labelExpr":"hours(datum.value) == 15 ? '15:00' : date(datum.value) == 1 ? timeFormat(datum.value, '%b') : '' + date(datum.value)",
          "labelOverlap":false,"labelFlush":false,"tickSize":3,"labelPadding":1,"domainColor":"#999999","tickColor":"#999999","labelColor":"#333333","labelFontSize":9}},
  "y": {"field":"r","type":"quantitative","scale":{"domain":[6.0,90.5],"nice":false,"zero":false,"padding":0},
        "axis":{"orient":"right","title":null,"values":[40],"format":".4f","tickSize":3,"labelPadding":2,"domainColor":"#aaaaaa","tickColor":"#888888","labelColor":"#555555","labelFontSize":8}}}},
{"data": {"name":"rsiTags"},
 "mark": {"type":"bar","orient":"horizontal","height":9},
 "encoding": {
  "x": {"datum": {"year":2022,"month":"Dec","date":18,"hours":12},"type":"temporal"},
  "x2": {"datum": {"year":2022,"month":"Dec","date":20,"hours":14}},
  "y": {"field":"pos","type":"quantitative"},
  "color": {"field":"kind","type":"nominal","legend":null,"scale":{"domain":["band","rsi"],"range":["#86d0e0","#8e1b8e"]}}}},
{"data": {"name":"rsiTags"},
 "mark": {"type":"text","fontSize":8,"fontWeight":"bold","align":"center","baseline":"middle"},
 "encoding": {
  "x": {"datum": {"year":2022,"month":"Dec","date":19,"hours":13},"type":"temporal"},
  "y": {"field":"pos","type":"quantitative"},
  "text": {"field":"label"},
  "fill": {"condition": {"test":"datum.kind == 'rsi'","value":"#ffffff"},"value":"#222222"}}},
{"data": {"values": [{}]},
 "mark": {"type":"text","align":"left","baseline":"middle","fontSize":7.5,"color":"#666666","text":"RSI (14)"},
 "encoding": {"x": {"datum": {"year":2022,"month":"Oct","date":17,"hours":0},"type":"temporal"},"y": {"datum": 81.1,"type":"quantitative"}}},
{"data": {"values": [{}]},
 "mark": {"type":"text","align":"left","baseline":"middle","fontSize":7,"color":"#aaaaaa","text":"▾"},
 "encoding": {"x": {"datum": {"year":2022,"month":"Oct","date":18,"hours":22},"type":"temporal"},"y": {"datum": 81.1,"type":"quantitative"}}},
{"data": {"values": [{}]},
 "mark": {"type":"text","align":"left","baseline":"middle","fontSize":7.5,"fontWeight":"bold","color":"#9c1f9c","text":"59.1744"},
 "encoding": {"x": {"datum": {"year":2022,"month":"Oct","date":21,"hours":23,"minutes":30},"type":"temporal"},"y": {"datum": 81.1,"type":"quantitative"}}}
]
}
]
}
